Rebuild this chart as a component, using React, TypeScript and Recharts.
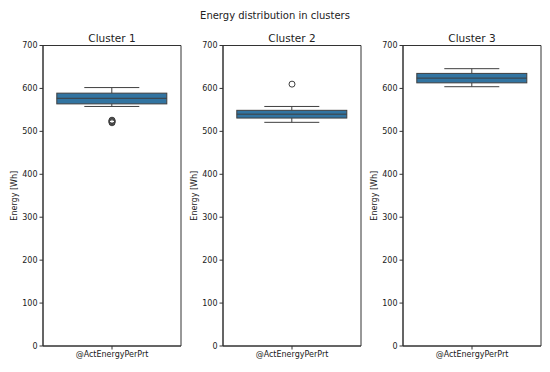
import { ComposedChart, Bar, Scatter, XAxis, YAxis, ReferenceArea } from 'recharts';

const category = '@ActEnergyPerPrt';
const clusterNames = ['Cluster 1', 'Cluster 2', 'Cluster 3'];
const whiskerLow = [558, 521, 604];
const q1 = [564, 531, 613];
const median = [577, 540, 624];
const q3 = [589, 549, 635];
const whiskerHigh = [602, 558, 646];
const outliers = [[520, 522, 523, 525, 526], [610], []];
const yTicks = [0, 100, 200, 300, 400, 500, 600, 700];

const FONT = '"DejaVu Sans", sans-serif';
const BOX_FILL = '#3274a1';
const LINE = '#3f3f3f';
const AXIS = '#333';

const BoxShape = (props: any) => {
  const { x, y, width, height, payload } = props;
  const [lo, hi] = payload.range;
  const top = Math.min(y, y + height);
  const h = Math.abs(height);
  const py = (v: number) => top + ((hi - v) * h) / (hi - lo);
  const cx = x + width / 2;
  const cap = width / 4;
  return (
    <g>
      <line x1={cx} x2={cx} y1={py(payload.q3)} y2={py(hi)} stroke={LINE} strokeWidth={1} />
      <line x1={cx} x2={cx} y1={py(payload.q1)} y2={py(lo)} stroke={LINE} strokeWidth={1} />
      <line x1={cx - cap} x2={cx + cap} y1={py(hi)} y2={py(hi)} stroke={LINE} strokeWidth={1} />
      <line x1={cx - cap} x2={cx + cap} y1={py(lo)} y2={py(lo)} stroke={LINE} strokeWidth={1} />
      <rect
        x={x}
        y={py(payload.q3)}
        width={width}
        height={py(payload.q1) - py(payload.q3)}
        fill={BOX_FILL}
        stroke={LINE}
        strokeWidth={1}
      />
      <line x1={x} x2={x + width} y1={py(payload.median)} y2={py(payload.median)} stroke={LINE} strokeWidth={1} />
    </g>
  );
};

const Flier = (props: any) => (
  <circle cx={props.cx} cy={props.cy} r={3} fill="none" stroke={LINE} strokeWidth={1} />
);

const YLabel = (props: any) => {
  const vb = props.viewBox || { x: 0, y: 45.5, height: 300 };
  const cy = vb.y + vb.height / 2;
  return (
    <text
      x={14}
      y={cy}
      transform={`rotate(-90, 14, ${cy})`}
      textAnchor="middle"
      dominantBaseline="central"
      fontSize={8}
      fontFamily={FONT}
      fill="#222"
    >
      Energy [Wh]
    </text>
  );
};

const Panel = ({ i }: { i: number }) => {
  const data = [
    {
      name: category,
      range: [whiskerLow[i], whiskerHigh[i]],
      q1: q1[i],
      median: median[i],
      q3: q3[i],
    },
  ];
  const flierData = outliers[i].map((v) => ({ name: category, value: v }));
  const tick = { fontSize: 8, fill: '#222', fontFamily: FONT };
  return (
    <ComposedChart width={183} height={372} data={data} margin={{ top: 45.5, right: 2, bottom: 0, left: 0 }}>
      <XAxis
        dataKey="name"
        type="category"
        allowDuplicatedCategory={false}
        tick={tick}
        tickSize={3.5}
        height={26}
        axisLine={{ stroke: AXIS }}
        tickLine={{ stroke: AXIS }}
      />
      <YAxis
        type="number"
        domain={[0, 700]}
        ticks={yTicks}
        tick={tick}
        tickSize={3.5}
        width={43}
        axisLine={{ stroke: AXIS }}
        tickLine={{ stroke: AXIS }}
        label={YLabel}
      />
      <ReferenceArea y1={0} y2={700} fill="none" stroke={AXIS} strokeWidth={1} ifOverflow="visible" />
      <Bar dataKey="range" shape={BoxShape} isAnimationActive={false} />
      {flierData.length > 0 && (
        <Scatter data={flierData} dataKey="value" shape={Flier} isAnimationActive={false} />
      )}
    </ComposedChart>
  );
};

export default function App() {
  const lefts = [0, 180, 360];
  return (
    <div style={{ position: 'absolute', left: 0, top: 0, width: 550, height: 372, background: '#fff', fontFamily: FONT }}>
      <div style={{ position: 'absolute', left: 0, top: 10, width: 550, textAlign: 'center', fontSize: 10, color: '#222' }}>
        Energy distribution in clusters
      </div>
      {clusterNames.map((n, i) => (
        <div key={n}>
          <div
            style={{
              position: 'absolute',
              left: lefts[i] + 43,
              top: 32,
              width: 138,
              textAlign: 'center',
              fontSize: 10.5,
              color: '#222',
            }}
          >
            {n}
          </div>
          <div style={{ position: 'absolute', left: lefts[i], top: 0 }}>
            <Panel i={i} />
          </div>
        </div>
      ))}
    </div>
  );
}
